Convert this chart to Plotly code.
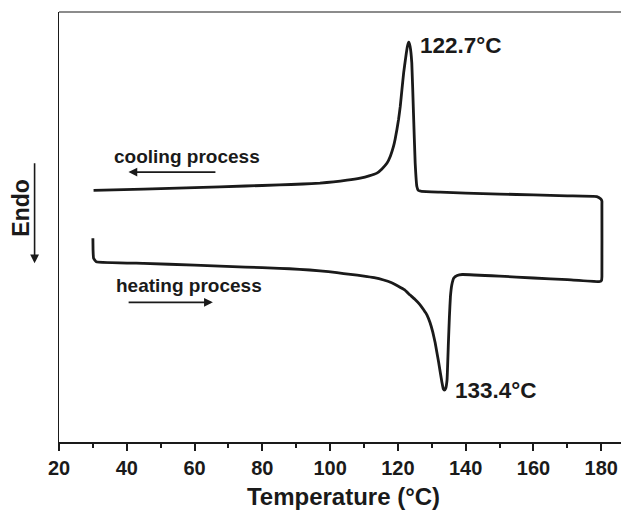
import plotly.graph_objects as go

# Heating scan (30 -> 180 °C), heat flow in arbitrary units (Endo down)
T_heating = [30.0, 30.05, 30.2, 31.0, 45.0, 60.0, 75.0, 85.0, 91.0, 97.0, 102.0, 106.0, 110.0,
             113.0, 115.8, 118.0, 120.0, 122.0, 123.6, 125.0, 126.5, 127.6, 128.6, 129.5, 130.3,
             131.0, 131.5, 132.0, 132.5, 133.0, 133.4, 133.7, 134.1, 134.5, 134.9, 135.2, 135.5,
             135.9, 136.5, 137.5, 139.0, 150.0, 160.0, 170.0, 179.6, 180.1, 180.2]
hf_heating = [203.4, 191.7, 183.4, 180.0, 178.3, 176.5, 174.6, 173.4, 172.4, 170.9, 169.0, 167.3,
              165.6, 164.0, 161.7, 159.2, 155.7, 151.8, 146.7, 142.5, 137.2, 132.0, 126.7, 119.0,
              109.7, 99.0, 89.7, 80.0, 69.7, 59.5, 53.0, 51.7, 53.5, 61.7, 98.7, 125.0, 145.0,
              156.7, 163.7, 166.2, 167.2, 165.6, 163.7, 162.0, 160.2, 161.5, 165.0]

# Cooling scan (180 -> 30 °C)
T_cooling = [180.2, 180.2, 179.8, 178.7, 170.0, 160.0, 150.0, 140.0, 132.5, 127.0, 126.0, 125.6,
             125.1, 124.6, 124.1, 123.6, 123.2, 122.8, 122.3, 121.7, 121.2, 120.7, 120.2, 119.7,
             119.2, 118.7, 117.8, 116.8, 115.3, 113.8, 111.5, 108.9, 105.0, 101.0, 97.0, 92.0,
             85.0, 75.0, 60.0, 45.0, 30.2]
hf_cooling = [236.7, 240.5, 242.7, 245.0, 245.7, 246.6, 247.5, 248.5, 249.4, 250.2, 251.2, 255.0,
              278.4, 328.4, 378.4, 394.7, 399.0, 394.7, 383.7, 368.4, 352.0, 335.0, 322.0, 311.7,
              302.5, 295.0, 285.5, 278.4, 272.6, 268.4, 265.6, 263.4, 261.3, 259.7, 258.4, 257.5,
              256.6, 255.5, 253.9, 252.5, 251.2]

x_ticks = [20, 40, 60, 80, 100, 120, 140, 160, 180]
peak_labels = ["122.7°C", "133.4°C"]
process_labels = ["cooling process", "heating process"]

FONT = "Liberation Sans, Arial, sans-serif"
INK = "#1a1a1a"

fig = go.Figure()
fig.add_trace(go.Scatter(
    x=T_heating + T_cooling, y=hf_heating + hf_cooling,
    mode="lines", line=dict(color=INK, width=2.8, shape="spline", smoothing=0.3),
    showlegend=False, hoverinfo="skip"))

annotations = [
    dict(x=126.0, y=395.7, text="<b>%s</b>" % peak_labels[0], xanchor="left", yanchor="middle",
         showarrow=False, font=dict(size=22.5, color=INK, family=FONT)),
    dict(x=136.2, y=51.7, text="<b>%s</b>" % peak_labels[1], xanchor="left", yanchor="middle",
         showarrow=False, font=dict(size=22.5, color=INK, family=FONT)),
    dict(x=35.5, y=285.0, text="<b>%s</b>" % process_labels[0], xanchor="left", yanchor="middle",
         showarrow=False, font=dict(size=19, color=INK, family=FONT)),
    dict(x=36.3, y=156.5, text="<b>%s</b>" % process_labels[1], xanchor="left", yanchor="middle",
         showarrow=False, font=dict(size=19, color=INK, family=FONT)),
    # cooling arrow (pointing left)
    dict(x=40.5, y=269.4, ax=66.6, ay=269.4, xref="x", yref="y", axref="x", ayref="y",
         text="", showarrow=True, arrowhead=2, arrowsize=1.1, arrowwidth=1.6, arrowcolor=INK),
    # heating arrow (pointing right)
    dict(x=65.4, y=139.4, ax=40.1, ay=139.4, xref="x", yref="y", axref="x", ayref="y",
         text="", showarrow=True, arrowhead=2, arrowsize=1.1, arrowwidth=1.6, arrowcolor=INK),
    # Endo label
    dict(x=-0.0671, y=0.5445, xref="paper", yref="paper", text="<b>Endo</b>", textangle=-90,
         showarrow=False, xanchor="center", yanchor="middle",
         font=dict(size=23, color=INK, family=FONT)),
    dict(x=-0.0429, y=0.4157, xref="paper", yref="paper", ax=0, ay=-101.6,
         text="", showarrow=True, arrowhead=2, arrowsize=1.1, arrowwidth=1.6, arrowcolor=INK),
]

# page body has an 8px default margin; the figure is sized to compensate
fig.update_layout(
    width=621, height=507,
    margin=dict(l=51, r=1, t=4, b=73, autoexpand=False),
    paper_bgcolor="white", plot_bgcolor="white",
    annotations=annotations,
    shapes=[dict(type="line", xref="paper", yref="paper", x0=0, x1=1, y0=1, y1=1,
                 line=dict(color=INK, width=1.2))],
    xaxis=dict(
        range=[20, 187.9], tickmode="array", tickvals=x_ticks,
        ticktext=["<b>%d</b>" % v for v in x_ticks], automargin=False,
        ticks="outside", ticklen=7, tickwidth=2, tickcolor=INK,
        minor=dict(ticks="outside", ticklen=4, tickwidth=2, tickcolor=INK, dtick=10, tick0=20),
        showline=True, linewidth=2.2, linecolor=INK, showgrid=False, zeroline=False,
        tickfont=dict(size=20, color=INK, family=FONT),
        title=dict(text="<b>Temperature (°C)</b>", font=dict(size=24, color=INK, family=FONT),
                   standoff=10),
    ),
    yaxis=dict(
        range=[0, 429.2], showticklabels=False, ticks="", showgrid=False, zeroline=False,
        showline=True, linewidth=1.2, linecolor=INK, automargin=False,
    ),
)

fig.write_html("out.html")
